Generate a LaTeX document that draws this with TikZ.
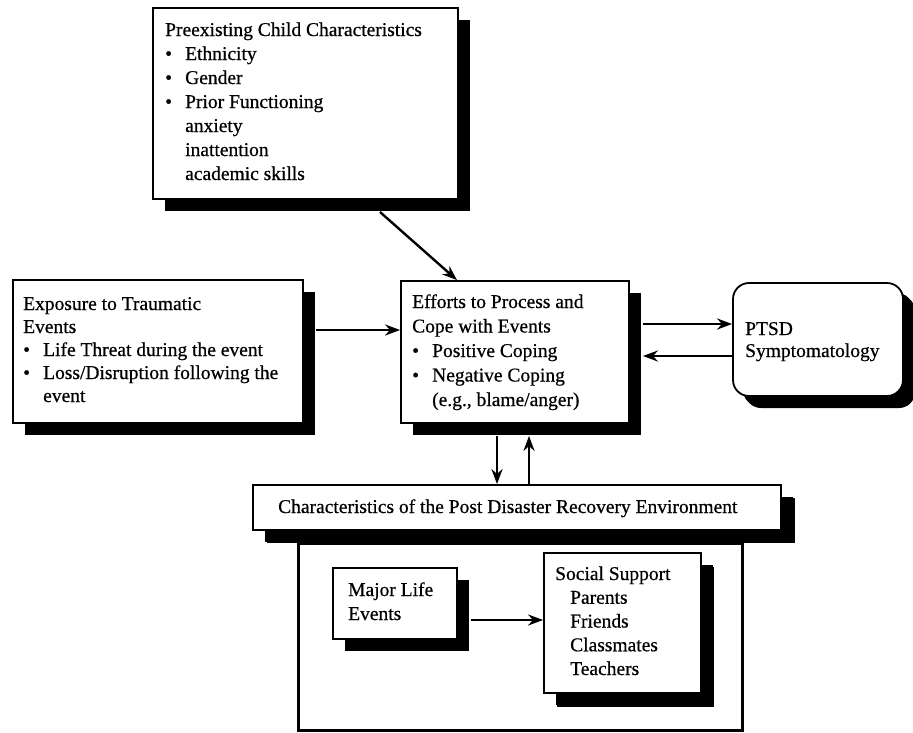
\documentclass[tikz,border=0pt]{standalone}
\usepackage{fontspec}
\setmainfont[FakeBold=0.6]{Liberation Serif}
\usetikzlibrary{arrows.meta,shadows}
\newcommand{\tb}[2]{\parbox[t]{540pt}{\fontsize{19.5}{#1}\selectfont #2}}
\newcommand{\bul}{\makebox[20pt][l]{\textbullet}}
\newcommand{\ind}[1]{\hspace*{#1}}
\tikzset{
  box/.style={draw,line width=1.8pt,fill=white,inner sep=0pt,
    drop shadow={shadow xshift=12pt,shadow yshift=-12pt,fill=black,opacity=1}},
  txt/.style={anchor=base west,inner sep=0pt},
  arr/.style={line width=2.4pt,-{Stealth[length=15pt,width=11pt]}},
}
\begin{document}
\begin{tikzpicture}[x=1pt,y=-1pt]
\fill[white] (0,0) rectangle (913,732);
\useasboundingbox (0,0) rectangle (913,732);

% boxes
\node[box,minimum width=305pt,minimum height=191pt] (pre) at (305.5,103.5) {};
\node[box,minimum width=290pt,minimum height=143pt] (exp) at (158,351.5) {};
\node[box,minimum width=228pt,minimum height=142pt] (eff) at (515,352) {};
\node[box,rounded corners=16pt,minimum width=170pt,minimum height=113pt,
  drop shadow={shadow xshift=10pt,shadow yshift=-10pt,fill=black,opacity=1}] (ptsd) at (818,339.5) {};
\node[draw,line width=3pt,inner sep=0pt,minimum width=444pt,minimum height=187pt] (env) at (520,636.5) {};
\node[box,minimum width=528pt,minimum height=45pt,
  drop shadow={shadow xshift=14pt,shadow yshift=-13pt,fill=black,opacity=1}] (hdr) at (517,507.5) {};
\node[box,minimum width=124pt,minimum height=71pt] (mle) at (395,603.5) {};
\node[box,minimum width=157pt,minimum height=140pt,
  drop shadow={shadow xshift=13pt,shadow yshift=-14pt,fill=black,opacity=1}] (soc) at (622.5,623) {};

% texts
\node[txt] (pret) at (165,36) {\tb{24pt}{Preexisting Child Characteristics\\
  \bul Ethnicity\\ \bul Gender\\ \bul Prior Functioning\\
  \ind{20pt}anxiety\\ \ind{20pt}inattention\\ \ind{20pt}academic skills}};
\node[txt] (expt) at (23,310) {\tb{23pt}{Exposure to Traumatic\\ Events\\
  \bul Life Threat during the event\\ \bul Loss/Disruption following the\\
  \ind{20pt}event}};
\node[txt] (efft) at (412,308) {\tb{24.5pt}{Efforts to Process and\\ Cope with Events\\
  \bul Positive Coping\\ \bul Negative Coping\\ \ind{20pt}(e.g., blame/anger)}};
\node[txt] (ptsdt) at (745,335) {\tb{22pt}{PTSD\\ Symptomatology}};
\node[txt] (hdrt) at (278,513) {\tb{24pt}{Characteristics of the Post Disaster Recovery Environment}};
\node[txt] (mlet) at (348,596) {\tb{24pt}{Major Life\\ Events}};
\node[txt] (soct) at (555,580) {\tb{23.75pt}{Social Support\\ \ind{15pt}Parents\\ \ind{15pt}Friends\\
  \ind{15pt}Classmates\\ \ind{15pt}Teachers}};

% connectors
\coordinate (a1) at (380,212);
\draw[arr] (a1) -- ([xshift=-58pt]eff.north);
\coordinate (a2) at ([xshift=12pt,yshift=21.5pt]exp.east);
\draw[arr] (a2) -- (a2 -| eff.west);
\coordinate (a3) at ([xshift=13pt,yshift=28pt]eff.east);
\draw[arr] (a3) -- (a3 -| ptsd.west);
\coordinate (a4) at ([yshift=-16.5pt]ptsd.west);
\draw[arr] (a4) -- ([xshift=13pt]a4 -| eff.east);
\coordinate (a5) at ([xshift=-18pt,yshift=-12pt]eff.south);
\draw[arr] (a5) -- (a5 |- hdr.north);
\coordinate (a6) at ([xshift=12pt]hdr.north);
\draw[arr] (a6) -- ([yshift=-12pt]a6 |- eff.south);
\coordinate (a7) at ([xshift=13pt,yshift=-16.5pt]mle.east);
\draw[arr] (a7) -- (a7 -| soc.west);
\end{tikzpicture}
\end{document}
